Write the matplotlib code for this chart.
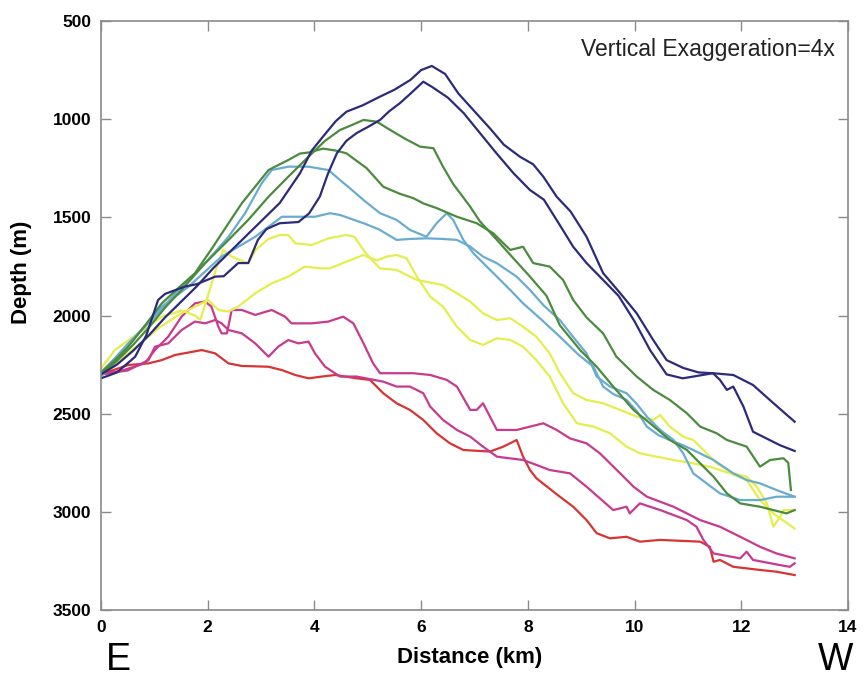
import matplotlib
matplotlib.use("Agg")
import matplotlib.pyplot as plt

plt.rcParams["font.family"] = ["Liberation Sans", "DejaVu Sans"]

# depth profiles, distance in km, depth in m
navy_a_km = [0, 0.3, 0.6, 0.9, 1.2, 1.5, 1.8, 2.1, 2.4, 2.7, 3.0, 3.35, 3.73, 3.95, 4.16, 4.4, 4.6, 4.9, 5.23, 5.5,
             5.8, 6.0, 6.2, 6.45, 6.7, 7.0, 7.3, 7.55, 7.85, 8.1, 8.29, 8.54, 8.8, 9.1, 9.41, 9.73, 10.04, 10.35, 10.6,
             10.91, 11.2, 11.47, 11.6, 11.73, 11.85, 12.04, 12.22, 12.47, 12.72, 13.0]
navy_a_depth = [2300, 2250, 2180, 2100, 2010, 1930, 1850, 1760, 1680, 1600, 1520, 1427, 1275, 1160, 1089, 1010, 962,
                930, 885, 850, 800, 750, 729, 770, 870, 960, 1050, 1130, 1191, 1230, 1293, 1395, 1470, 1599, 1784,
                1886, 1989, 2125, 2227, 2267, 2290, 2294, 2328, 2379, 2362, 2464, 2592, 2626, 2660, 2690]

navy_b_km = [0, 0.3, 0.64, 0.85, 1.07, 1.2, 1.57, 1.8, 2.14, 2.3, 2.57, 2.76, 2.94, 3.1, 3.35, 3.7, 3.9, 4.1, 4.25,
             4.42, 4.6, 4.79, 5.0, 5.23, 5.4, 5.6, 5.8, 6.04, 6.2, 6.5, 6.8, 7.1, 7.4, 7.73, 8.04, 8.3, 8.6, 8.85, 9.1,
             9.41, 9.7, 10.0, 10.29, 10.6, 10.9, 11.1, 11.47, 11.85, 12.22, 12.6, 13.0]
navy_b_depth = [2320, 2290, 2210, 2100, 1921, 1890, 1853, 1840, 1802, 1800, 1733, 1733, 1615, 1560, 1530, 1524, 1480,
                1395, 1280, 1174, 1110, 1071, 1040, 1004, 960, 919, 870, 809, 835, 890, 970, 1070, 1170, 1275, 1361,
                1410, 1540, 1650, 1733, 1819, 1900, 2030, 2176, 2300, 2320, 2311, 2294, 2303, 2354, 2446, 2541]

green_a_km = [0, 0.3, 0.6, 0.9, 1.2, 1.51, 1.95, 2.39, 2.76, 3.14, 3.51, 3.89, 4.2, 4.48, 4.7, 4.92, 5.17, 5.42, 5.7,
              5.98, 6.23, 6.41, 6.6, 6.92, 7.1, 7.42, 7.7, 8.04, 8.35, 8.6, 8.98, 9.29, 9.6, 9.98, 10.29, 10.66, 10.98,
              11.23, 11.48, 11.73, 11.98, 12.35, 12.6, 12.85, 13.0]
green_a_depth = [2300, 2230, 2150, 2060, 1960, 1870, 1734, 1615, 1513, 1395, 1293, 1191, 1110, 1055, 1030, 1004, 1013,
                 1055, 1100, 1140, 1148, 1242, 1330, 1446, 1520, 1615, 1700, 1802, 1900, 2050, 2176, 2261, 2362, 2481,
                 2549, 2634, 2685, 2753, 2821, 2906, 2957, 2974, 2991, 3008, 2991]

green_b_km = [0, 0.25, 0.51, 0.8, 1.14, 1.45, 1.76, 2.1, 2.39, 2.64, 2.9, 3.14, 3.35, 3.51, 3.73, 3.89, 4.16, 4.4, 4.6,
              4.98, 5.29, 5.6, 5.85, 6.05, 6.29, 6.67, 7.04, 7.35, 7.67, 7.91, 8.1, 8.41, 8.66, 8.85, 9.1, 9.41, 9.66,
              10.04, 10.35, 10.66, 10.98, 11.23, 11.54, 11.73, 12.1, 12.35, 12.54, 12.79, 12.88, 12.93]
green_b_depth = [2290, 2230, 2159, 2060, 1938, 1860, 1785, 1650, 1530, 1428, 1340, 1259, 1230, 1208, 1175, 1170, 1150,
                 1160, 1174, 1250, 1344, 1380, 1402, 1430, 1453, 1497, 1530, 1581, 1666, 1650, 1733, 1751, 1819, 1921,
                 2010, 2091, 2210, 2311, 2379, 2430, 2498, 2566, 2600, 2634, 2668, 2770, 2736, 2727, 2750, 2889]

lblue_a_km = [0, 0.25, 0.51, 1.01, 1.45, 1.95, 2.39, 2.7, 3.01, 3.2, 3.51, 3.89, 4.26, 4.48, 4.7, 4.92, 5.23, 5.54,
              5.79, 6.1, 6.29, 6.48, 6.6, 6.79, 6.98, 7.23, 7.42, 7.67, 7.91, 8.25, 8.6, 8.95, 9.23, 9.41, 9.6, 9.85,
              10.05, 10.23, 10.45, 10.66, 10.9, 11.1, 11.48, 11.85, 12.1, 12.35, 12.66, 13.0]
lblue_a_depth = [2290, 2220, 2142, 2006, 1870, 1734, 1599, 1479, 1327, 1259, 1242, 1242, 1259, 1310, 1360, 1412, 1479,
                 1513, 1564, 1599, 1530, 1479, 1513, 1615, 1683, 1751, 1802, 1870, 1938, 2020, 2108, 2200, 2261, 2362,
                 2400, 2430, 2490, 2566, 2610, 2634, 2660, 2685, 2736, 2804, 2838, 2855, 2889, 2923]

lblue_b_km = [0, 0.3, 0.64, 1.14, 1.64, 2.26, 2.89, 3.39, 4.01, 4.29, 4.48, 4.92, 5.2, 5.54, 5.8, 6.1, 6.4, 6.67, 6.92,
              7.16, 7.42, 7.79, 8.04, 8.3, 8.6, 8.85, 9.1, 9.29, 9.54, 9.85, 10.04, 10.23, 10.48, 10.73, 10.91, 11.1,
              11.35, 11.6, 11.98, 12.35, 12.66, 13.0]
lblue_b_depth = [2310, 2230, 2108, 1955, 1853, 1700, 1599, 1497, 1497, 1479, 1488, 1530, 1560, 1615, 1610, 1607, 1610,
                 1615, 1649, 1700, 1734, 1802, 1870, 1950, 2023, 2110, 2193, 2311, 2362, 2396, 2450, 2515, 2583, 2634,
                 2702, 2804, 2855, 2906, 2940, 2940, 2923, 2923]

yellow_a_km = [0, 0.26, 0.7, 1.14, 1.51, 1.76, 1.86, 1.98, 2.17, 2.29, 2.45, 2.6, 2.76, 2.9, 3.14, 3.35, 3.51, 3.64,
               3.95, 4.26, 4.6, 4.75, 4.92, 5.05, 5.23, 5.54, 5.92, 6.41, 6.67, 6.92, 7.16, 7.42, 7.67, 7.91, 8.16,
               8.41, 8.6, 8.85, 9.1, 9.41, 9.73, 10.04, 10.35, 10.48, 10.66, 10.91, 11.1, 11.29, 11.54, 11.85, 12.1,
               12.29, 12.48, 12.6, 12.73, 12.79, 13.0]
yellow_a_depth = [2270, 2176, 2091, 2006, 1975, 2000, 2023, 1921, 1751, 1666, 1700, 1717, 1734, 1666, 1610, 1590, 1590,
                  1632, 1641, 1607, 1590, 1600, 1666, 1710, 1760, 1768, 1819, 1845, 1887, 1929, 1989, 2023, 2014, 2057,
                  2108, 2193, 2294, 2396, 2430, 2447, 2481, 2515, 2532, 2507, 2566, 2617, 2634, 2685, 2753, 2804, 2821,
                  2872, 2957, 3076, 3025, 2991, 2991]

yellow_b_km = [0, 0.3, 0.7, 1.1, 1.5, 1.8, 2.01, 2.2, 2.39, 2.57, 2.89, 3.2, 3.51, 3.82, 4.14, 4.29, 4.6, 4.92, 5.17,
               5.35, 5.54, 5.73, 5.92, 6.17, 6.41, 6.67, 6.92, 7.16, 7.42, 7.67, 7.91, 8.16, 8.41, 8.66, 8.92, 9.23,
               9.54, 9.85, 10.1, 10.41, 10.73, 11.1, 11.41, 11.79, 12.1, 12.35, 12.6, 13.0]
yellow_b_depth = [2290, 2240, 2150, 2060, 1990, 1950, 1921, 1972, 1980, 1955, 1887, 1836, 1802, 1751, 1760, 1760, 1726,
                  1692, 1720, 1700, 1692, 1709, 1802, 1904, 1955, 2057, 2125, 2150, 2116, 2125, 2159, 2227, 2311, 2447,
                  2549, 2566, 2600, 2668, 2702, 2719, 2736, 2753, 2770, 2804, 2838, 2940, 3008, 3085]

magenta_a_km = [0, 0.4, 0.82, 1.01, 1.26, 1.51, 1.76, 1.95, 2.07, 2.2, 2.26, 2.36, 2.45, 2.64, 2.89, 3.2, 3.45, 3.57,
                3.95, 4.26, 4.54, 4.73, 4.92, 5.1, 5.23, 5.85, 6.17, 6.48, 6.67, 6.92, 7.04, 7.16, 7.29, 7.42, 7.79,
                8.04, 8.29, 8.54, 8.79, 9.1, 9.35, 9.73, 9.98, 10.23, 10.73, 11.23, 11.6, 11.98, 12.35, 12.66, 13.0]
magenta_a_depth = [2300, 2280, 2244, 2176, 2108, 2006, 1938, 1929, 1955, 2057, 2091, 2091, 1972, 1972, 1997, 1972,
                   2006, 2040, 2040, 2031, 2006, 2040, 2142, 2244, 2294, 2294, 2303, 2328, 2362, 2481, 2481, 2447,
                   2515, 2583, 2583, 2566, 2549, 2583, 2626, 2651, 2702, 2804, 2872, 2923, 2974, 3042, 3076, 3127,
                   3178, 3212, 3237]

magenta_b_km = [0, 0.5, 0.89, 1.01, 1.26, 1.51, 1.76, 1.95, 2.14, 2.26, 2.39, 2.64, 2.89, 3.14, 3.32, 3.51, 3.7, 3.89,
                4.01, 4.2, 4.48, 4.79, 5.29, 5.54, 5.79, 6.04, 6.17, 6.41, 6.67, 6.92, 7.16, 7.42, 7.91, 8.16, 8.41,
                8.79, 9.1, 9.6, 9.85, 9.91, 10.1, 10.48, 10.98, 11.16, 11.29, 11.48, 11.98, 12.1, 12.22, 12.72, 12.91,
                13.0]
magenta_b_depth = [2300, 2280, 2227, 2159, 2142, 2074, 2031, 2040, 2023, 2040, 2074, 2091, 2142, 2210, 2159, 2125,
                   2142, 2133, 2193, 2261, 2311, 2311, 2337, 2362, 2362, 2396, 2464, 2532, 2583, 2617, 2668, 2719,
                   2736, 2761, 2787, 2804, 2872, 2991, 2974, 3008, 2957, 2991, 3042, 3076, 3143, 3212, 3237, 3203,
                   3245, 3271, 3280, 3262]

red_km = [0, 0.51, 0.89, 1.14, 1.39, 1.89, 2.14, 2.39, 2.64, 3.14, 3.39, 3.64, 3.89, 4.14, 4.39, 4.79, 5.04, 5.29,
          5.54, 5.79, 6.04, 6.29, 6.54, 6.79, 7.29, 7.54, 7.79, 7.91, 8.04, 8.16, 8.35, 8.6, 8.85, 9.1, 9.29, 9.54,
          9.85, 10.1, 10.48, 11.23, 11.41, 11.48, 11.6, 11.85, 12.35, 12.66, 13.0]
red_depth = [2300, 2252, 2244, 2227, 2201, 2176, 2193, 2244, 2257, 2261, 2278, 2303, 2320, 2311, 2303, 2320, 2328,
             2396, 2447, 2481, 2532, 2600, 2651, 2685, 2693, 2668, 2634, 2719, 2787, 2829, 2870, 2923, 2974, 3042,
             3109, 3135, 3127, 3152, 3143, 3152, 3178, 3254, 3245, 3280, 3296, 3305, 3322]

NAVY = "#2c2b7a"
GREEN = "#4b8b3e"
LBLUE = "#6aacd0"
YELLOW = "#e4ee4c"
MAGENTA = "#c73a8d"
RED = "#d93434"
FRAME = "#8a8a8a"

profiles = [
    (red_km, red_depth, RED),
    (magenta_b_km, magenta_b_depth, MAGENTA),
    (magenta_a_km, magenta_a_depth, MAGENTA),
    (yellow_b_km, yellow_b_depth, YELLOW),
    (yellow_a_km, yellow_a_depth, YELLOW),
    (lblue_b_km, lblue_b_depth, LBLUE),
    (lblue_a_km, lblue_a_depth, LBLUE),
    (green_b_km, green_b_depth, GREEN),
    (green_a_km, green_a_depth, GREEN),
    (navy_b_km, navy_b_depth, NAVY),
    (navy_a_km, navy_a_depth, NAVY),
]

fig = plt.figure(figsize=(8.67, 6.79), dpi=100)
ax = fig.add_axes([101 / 867, 1 - 610 / 679, 747 / 867, 589 / 679])

for xs, ds, col in profiles:
    ax.plot(xs, ds, color=col, lw=1.6, solid_joinstyle="round")

ax.set_xlim(0, 14)
ax.set_ylim(3500, 500)
ax.set_xticks(range(0, 15, 2))
ax.set_yticks(range(500, 3501, 500))
ax.tick_params(direction="in", length=7, width=1, color=FRAME, top=True, right=True,
               labelsize=12.5, pad=7)
for lab in ax.get_xticklabels() + ax.get_yticklabels():
    lab.set_fontweight("bold")
for sp in ax.spines.values():
    sp.set_color(FRAME)
    sp.set_linewidth(1.2)

ax.text(0.983, 0.951, "Vertical Exaggeration=4x", transform=ax.transAxes,
        ha="right", va="center", fontsize=16.5, color="#222222")

fig.text(22 / 867, 1 - 272 / 679, "Depth (m)", rotation=90, ha="center", va="center",
         fontsize=16, fontweight="bold")
fig.text(470 / 867, 1 - 657 / 679, "Distance (km)", ha="center", va="center",
         fontsize=16, fontweight="bold")
# compass letters under the axis ends
fig.text(118 / 867, 1 / 679, "E", ha="center", va="bottom", fontsize=27)
fig.text(836 / 867, 1 / 679, "W", ha="center", va="bottom", fontsize=27)

fig.savefig("out.png", dpi=100)
plt.close(fig)
